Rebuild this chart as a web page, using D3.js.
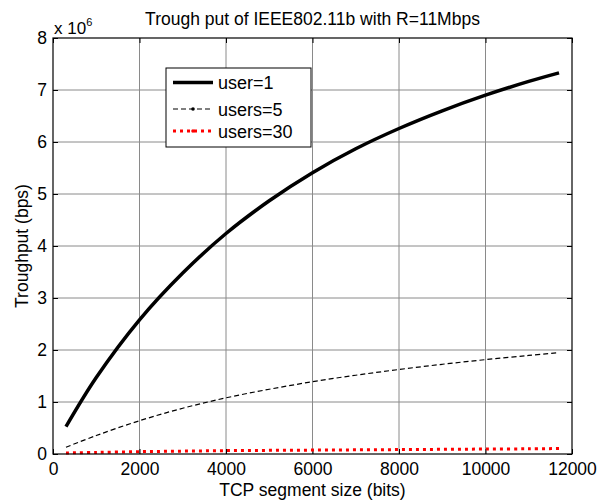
<!DOCTYPE html>
<html>
<head>
<meta charset="utf-8">
<script src="https://cdn.jsdelivr.net/npm/d3@7"></script>
<style>
  body { margin: 0; background: #fff; }
  svg { display: block; font-family: "Liberation Sans", Arial, sans-serif; }
</style>
</head>
<body>
<svg id="chart" width="613" height="502"></svg>
<script>
// segment size (bits) and throughput values (x 10^6 bps)
var segSize = [300, 1000, 2000, 3000, 4000, 5000, 6000, 7000, 8000, 9000, 10000, 11000, 11700];
var user1   = [0.525, 1.47, 2.58, 3.48, 4.24, 4.87, 5.41, 5.87, 6.26, 6.60, 6.90, 7.165, 7.33];
var users5  = [0.13, 0.355, 0.64, 0.88, 1.08, 1.245, 1.39, 1.515, 1.625, 1.725, 1.815, 1.895, 1.95];
var users30 = [0.02, 0.03, 0.045, 0.055, 0.065, 0.07, 0.075, 0.08, 0.085, 0.09, 0.095, 0.1, 0.105];

var xTicks = [0, 2000, 4000, 6000, 8000, 10000, 12000];
var yTicks = [0, 1, 2, 3, 4, 5, 6, 7, 8];

var series = [
  {name: 'user=1',   vals: user1,   color: '#000', width: 3.5, dash: null},
  {name: 'users=5',  vals: users5,  color: '#000', width: 1.2, dash: '5,3'},
  {name: 'users=30', vals: users30, color: '#f00', width: 3,   dash: '3,4'}
];

var svg = d3.select('#chart');
var m = {left: 53, right: 41, top: 38, bottom: 48};
var W = 613 - m.left - m.right, H = 502 - m.top - m.bottom;

var x = d3.scaleLinear().domain([0, 12000]).range([0, W]);
var y = d3.scaleLinear().domain([0, 8]).range([H, 0]);

var g = svg.append('g').attr('transform', 'translate(' + m.left + ',' + m.top + ')');

// grid
g.append('g').selectAll('line').data(xTicks.slice(1, -1)).enter().append('line')
  .attr('x1', function(d) { return x(d); }).attr('x2', function(d) { return x(d); })
  .attr('y1', 0).attr('y2', H)
  .style('stroke', '#8a8a8a').style('stroke-width', 1);
g.append('g').selectAll('line').data(yTicks.slice(1, -1)).enter().append('line')
  .attr('y1', function(d) { return y(d); }).attr('y2', function(d) { return y(d); })
  .attr('x1', 0).attr('x2', W)
  .style('stroke', '#8a8a8a').style('stroke-width', 1);

// axes (ticks inward)
g.append('g').attr('transform', 'translate(0,' + H + ')')
  .call(d3.axisBottom(x).tickValues(xTicks).tickFormat(d3.format('d'))
    .tickSizeInner(-5).tickSizeOuter(0).tickPadding(9));
g.append('g')
  .call(d3.axisLeft(y).tickValues(yTicks).tickSizeInner(-5).tickSizeOuter(0).tickPadding(6));
g.append('g')
  .call(d3.axisTop(x).tickValues(xTicks).tickSizeInner(-5).tickSizeOuter(0).tickFormat(''));
g.append('g').attr('transform', 'translate(' + W + ',0)')
  .call(d3.axisRight(y).tickValues(yTicks).tickSizeInner(-5).tickSizeOuter(0).tickFormat(''));
g.selectAll('.domain').remove();
g.selectAll('.tick line').style('stroke', '#000');
g.selectAll('.tick text').style('font-size', '17.5px').style('fill', '#000')
  .style('font-family', '"Liberation Sans", Arial, sans-serif');

// lines
var line = d3.line().curve(d3.curveCatmullRom.alpha(0.5));
series.forEach(function(s) {
  g.append('path')
    .datum(segSize.map(function(v, i) { return [x(v), y(s.vals[i])]; }))
    .attr('d', line)
    .style('fill', 'none')
    .style('stroke', s.color)
    .style('stroke-width', s.width)
    .style('stroke-dasharray', s.dash);
});

// box
g.append('rect').attr('width', W).attr('height', H)
  .style('fill', 'none').style('stroke', '#000').style('stroke-width', 1.2);

// legend
var lg = svg.append('g').attr('transform', 'translate(166,68)');
lg.append('rect').attr('width', 145).attr('height', 79)
  .style('fill', '#fff').style('stroke', '#000').style('stroke-width', 1);
series.forEach(function(s, i) {
  var ly = [14.5, 41, 63][i];
  lg.append('line').attr('x1', 7).attr('x2', 47).attr('y1', ly).attr('y2', ly)
    .style('stroke', s.color).style('stroke-width', s.width).style('stroke-dasharray', s.dash);
  if (i > 0) {
    lg.append('circle').attr('cx', 27).attr('cy', ly).attr('r', 1.8).style('fill', s.color);
  }
  lg.append('text').attr('x', 52).attr('y', ly + 6.5).text(s.name)
    .style('font-size', '18px');
});

// text
svg.append('text').attr('x', m.left + W / 2).attr('y', 25).attr('text-anchor', 'middle')
  .style('font-size', '17.5px').text('Trough put of IEEE802.11b with R=11Mbps');
svg.append('text').attr('x', m.left + W / 2).attr('y', 496).attr('text-anchor', 'middle')
  .style('font-size', '17.5px').text('TCP segment size (bits)');
svg.append('text').attr('transform', 'translate(28,' + (m.top + H / 2) + ') rotate(-90)')
  .attr('text-anchor', 'middle').style('font-size', '17.5px').text('Troughput (bps)');
var mult = svg.append('text').attr('x', 54).attr('y', 34).style('font-size', '17px');
mult.append('tspan').text('x 10');
mult.append('tspan').attr('dy', -8).style('font-size', '11px').text('6');
</script>
</body>
</html>
